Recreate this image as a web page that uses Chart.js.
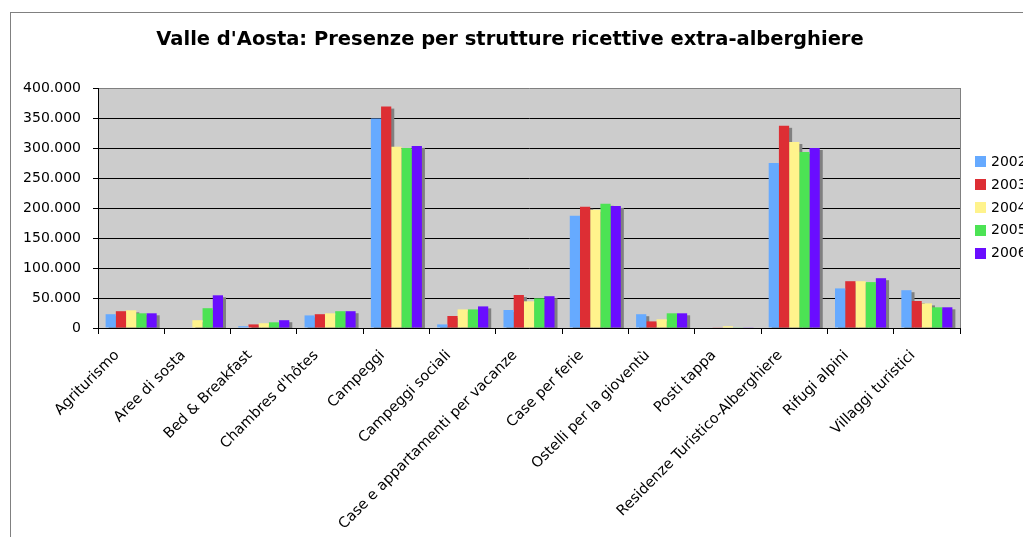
<!DOCTYPE html>
<html>
<head>
<meta charset="utf-8">
<script src="https://cdn.jsdelivr.net/npm/chart.js@4.4.1/dist/chart.umd.min.js"></script>
<style>
  html, body { margin: 0; padding: 0; background: #fff; overflow: hidden; width: 1023px; height: 537px; }
  #frame { position: absolute; left: 10px; top: 12px; width: 1100px; height: 600px;
           border-left: 1px solid #808080; border-top: 1px solid #808080; }
  #chart { position: absolute; left: 0; top: 0; }
</style>
</head>
<body>
<div id="frame"></div>
<canvas id="chart" width="1040" height="560"></canvas>
<script>
const categories = [
    'Agriturismo', 'Aree di sosta', 'Bed & Breakfast', "Chambres d'hôtes", 'Campeggi',
    'Campeggi sociali', 'Case e appartamenti per vacanze', 'Case per ferie',
    'Ostelli per la gioventù', 'Posti tappa', 'Residenze Turistico-Alberghiere',
    'Rifugi alpini', 'Villaggi turistici'
];
const years = ['2002', '2003', '2004', '2005', '2006'];
const v2002 = [23000, 0, 3000, 21000, 349000, 6000, 30000, 187000, 23000, 0, 275000, 66000, 63000];
const v2003 = [28000, 0, 6000, 23000, 369000, 20000, 55000, 202000, 11000, 1100, 337000, 78000, 45000];
const v2004 = [29500, 13000, 8000, 24500, 302000, 31000, 44500, 197000, 14500, 3000, 310000, 78000, 41000];
const v2005 = [24500, 33000, 9500, 28000, 300000, 31000, 49500, 207000, 24500, 1100, 293500, 76500, 34500];
const v2006 = [24500, 54500, 13000, 28000, 303500, 36000, 53000, 203500, 24500, 1100, 300000, 83000, 34500];
const yTicks = [0, 50000, 100000, 150000, 200000, 250000, 300000, 350000, 400000];

const colors = ['#66aaff', '#dd2e34', '#fff38c', '#4ce354', '#6a0dff'];
const seriesValues = [v2002, v2003, v2004, v2005, v2006];

function fmt(v) {
    return String(v).replace(/\B(?=(\d{3})+(?!\d))/g, '.');
}

// grey plot background + right border
const plotBg = {
    id: 'plotBg',
    beforeDraw(chart) {
        const {ctx, chartArea: a} = chart;
        ctx.save();
        ctx.fillStyle = '#cccccc';
        ctx.fillRect(a.left, a.top, a.right - a.left, a.bottom - a.top);
        ctx.restore();
    },
    afterDraw(chart) {
        const {ctx, chartArea: a} = chart;
        ctx.save();
        ctx.strokeStyle = '#808080';
        ctx.lineWidth = 1;
        ctx.beginPath();
        ctx.moveTo(Math.round(a.right) + 0.5, a.top);
        ctx.lineTo(Math.round(a.right) + 0.5, a.bottom);
        ctx.stroke();
        ctx.restore();
    }
};

// excel-like drop shadow behind each bar
const barShadow = {
    id: 'barShadow',
    beforeDatasetsDraw(chart) {
        const {ctx, chartArea: a} = chart;
        ctx.save();
        ctx.beginPath();
        ctx.rect(a.left, a.top, a.right - a.left, a.bottom - a.top);
        ctx.clip();
        ctx.fillStyle = '#808080';
        chart.getSortedVisibleDatasetMetas().forEach(meta => {
            meta.data.forEach(el => {
                const p = el.getProps(['x', 'y', 'base', 'width'], true);
                if (p.base - p.y < 1) return;
                ctx.fillRect(p.x - p.width / 2 + 3, p.y + 2, p.width, p.base - p.y);
            });
        });
        ctx.restore();
    }
};

// legend to the right of the plot, like the spreadsheet one
const sideLegend = {
    id: 'sideLegend',
    afterDraw(chart) {
        const {ctx, chartArea: a} = chart;
        const ds = chart.data.datasets;
        const step = 22.8;
        const midY = (a.top + a.bottom) / 2;
        const y0 = midY - step * (ds.length - 1) / 2;
        const x = a.right + 15;
        ctx.save();
        ctx.font = '14px "DejaVu Sans"';
        ctx.textBaseline = 'middle';
        ctx.textAlign = 'left';
        ds.forEach((d, i) => {
            const cy = y0 + i * step;
            ctx.fillStyle = d.backgroundColor;
            ctx.fillRect(x, Math.round(cy - 6), 11, 11);
            ctx.fillStyle = '#000';
            ctx.fillText(d.label, x + 16, cy);
        });
        ctx.restore();
    }
};

new Chart(document.getElementById('chart'), {
    type: 'bar',
    data: {
        labels: categories,
        datasets: years.map((y, i) => ({
            label: y,
            data: seriesValues[i],
            backgroundColor: colors[i],
            borderWidth: 0
        }))
    },
    options: {
        responsive: false,
        animation: false,
        layout: { padding: { left: 22, right: 42, top: 0, bottom: 0 } },
        datasets: {
            bar: { categoryPercentage: 0.77, barPercentage: 1.0 }
        },
        plugins: {
            title: {
                display: true,
                text: "Valle d'Aosta: Presenze per strutture ricettive extra-alberghiere",
                color: '#000',
                font: { family: 'DejaVu Sans', size: 19.5, weight: 'bold' },
                padding: { top: 28.3, bottom: 36.3 }
            },
            legend: { display: false },
            tooltip: { enabled: false }
        },
        scales: {
            x: {
                afterFit(scale) {
                    scale.height = 232;
                    scale.paddingLeft = 0;
                    scale.paddingRight = 80; // layout padding (42) + room for the legend
                },
                grid: {
                    offset: true,
                    drawOnChartArea: false,
                    drawTicks: true,
                    tickLength: 6,
                    tickColor: '#000'
                },
                border: { color: '#000', width: 1 },
                ticks: {
                    color: '#000',
                    autoSkip: false,
                    minRotation: 45,
                    maxRotation: 45,
                    padding: 13,
                    labelOffset: -14,
                    font: { family: 'DejaVu Sans', size: 14.5 }
                }
            },
            y: {
                min: 0,
                max: 400000,
                afterFit(scale) { scale.width = 76; },
                afterBuildTicks(scale) { scale.ticks = yTicks.map(v => ({ value: v })); },
                grid: {
                    color: ctx => ctx.tick && ctx.tick.value === 400000 ? '#808080' : '#000',
                    tickColor: '#000',
                    tickLength: 5,
                    lineWidth: 1
                },
                border: { color: '#000', width: 1 },
                ticks: {
                    color: '#000',
                    padding: 12,
                    font: { family: 'DejaVu Sans', size: 14 },
                    callback: v => fmt(v)
                }
            }
        }
    },
    plugins: [plotBg, barShadow, sideLegend]
});
</script>
</body>
</html>
